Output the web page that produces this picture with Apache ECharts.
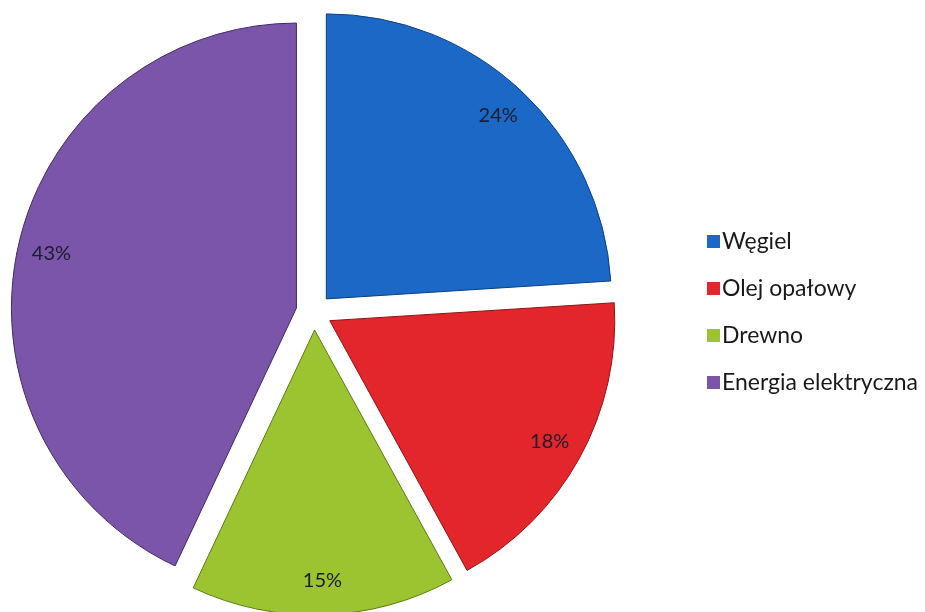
<!DOCTYPE html>
<html>
<head>
<meta charset="utf-8">
<script src="https://cdn.jsdelivr.net/npm/echarts@6/dist/echarts.min.js"></script>
<style>
html,body{margin:0;padding:0;background:#fff;}
#chart{width:925px;height:612px;}
</style>
</head>
<body>
<div id="chart"></div>
<script>
// dane wykresu
var categories = ['Węgiel', 'Olej opałowy', 'Drewno', 'Energia elektryczna'];
var shares = [24, 18, 15, 43];
var colors = ['#1b68c6', '#e2262c', '#9cc431', '#7a55a9'];
var borders = ['#0d3f7e', '#8e1418', '#5e7a14', '#3f2a63'];

var pieCenter = [314, 312];
var pieRadius = 285;

function buildData(withStyle) {
	var out = [];
	for (var i = 0; i < categories.length; i++) {
		var item = { name: categories[i], value: shares[i], selected: true };
		if (withStyle) {
			item.itemStyle = { color: colors[i], borderColor: borders[i], borderWidth: 1 };
			item.select = { itemStyle: { color: colors[i], borderColor: borders[i], borderWidth: 1 } };
		}
		out.push(item);
	}
	return out;
}

var chart = echarts.init(document.getElementById('chart'));
chart.setOption({
	animation: false,
	legend: {
		orient: 'vertical',
		left: 702,
		top: 225,
		icon: 'rect',
		itemWidth: 13,
		itemHeight: 13,
		itemGap: 24,
		selectedMode: false,
		itemStyle: { borderWidth: 0 },
		textStyle: { fontFamily: 'Lato', fontSize: 23, color: '#1a1a1a', padding: [0, 0, 0, -3] },
		data: categories
	},
	series: [
		{
			type: 'pie',
			center: pieCenter,
			radius: [0, pieRadius],
			startAngle: 90,
			selectedMode: 'multiple',
			selectedOffset: 18,
			label: { show: false },
			labelLine: { show: false },
			emphasis: { disabled: true },
			data: buildData(true)
		},
		{
			// przezroczysta warstwa tylko dla etykiet procentowych
			type: 'pie',
			center: pieCenter,
			radius: [211, pieRadius],
			startAngle: 90,
			silent: true,
			selectedMode: 'multiple',
			selectedOffset: 18,
			itemStyle: { color: 'rgba(0,0,0,0)' },
			select: { itemStyle: { color: 'rgba(0,0,0,0)', borderWidth: 0 } },
			emphasis: { disabled: true },
			labelLine: { show: false },
			label: {
				show: true,
				position: 'inside',
				formatter: '{c}%',
				fontFamily: 'Lato',
				fontSize: 20,
				color: '#1c1c2c'
			},
			data: buildData(false)
		}
	]
});
</script>
</body>
</html>
